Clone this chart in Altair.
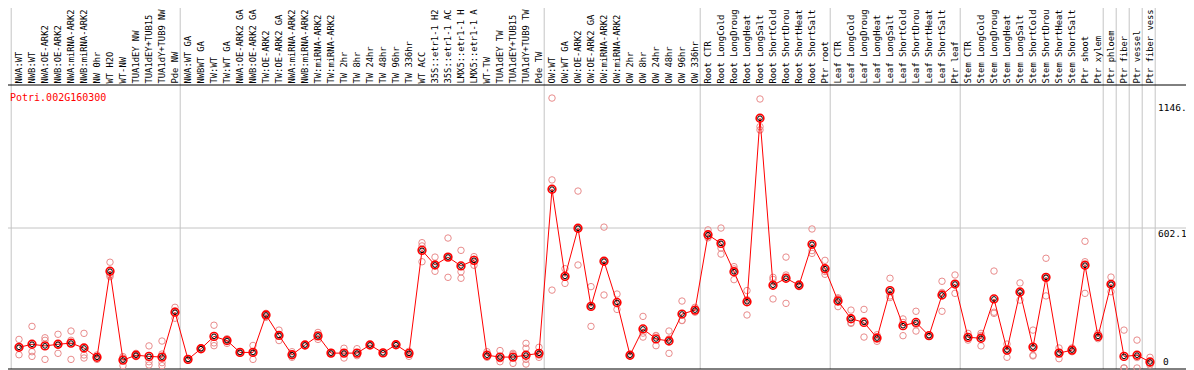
import altair as alt
import pandas as pd

categories = [
    "NWA:WT", "NWB:WT", "NWA:OE-ARK2", "NWB:OE-ARK2", "NWA:miRNA-ARK2", "NWB:miRNA-ARK2",
    "NW 0hr", "WT H2O", "WT-NW", "TUA1dEY NW", "TUA1dEY+TUB15", "TUA1dY+TUB9 NW", "Pde NW",
    "NWA:WT GA", "NWBWT GA", "TW:WT", "TW:WT GA", "NWA:OE-ARK2 GA", "NWB:OE-ARK2 GA",
    "TW:OE-ARK2", "TW:OE-ARK2 GA", "NWA:miRNA-ARK2", "NWB:miRNA-ARK2", "TW:miRNA-ARK2",
    "TW:miRNA-ARK2", "TW 2hr", "TW 8hr", "TW 24hr", "TW 48hr", "TW 96hr", "TW 336hr",
    "WT ACC", "35S::etr1-1 H2", "35S::etr1-1 AC", "LMX5::etr1-1 H", "LMX5::etr1-1 A",
    "WT-TW", "TUA1dEY TW", "TUA1dEY+TUB15", "TUA1dY+TUB9 TW", "Pde TW",
    "OW:WT", "OW:WT GA", "OW:OE-ARK2", "OW:OE-ARK2 GA", "OW:miRNA-ARK2", "OW:miRNA-ARK2",
    "OW 2hr", "OW 8hr", "OW 24hr", "OW 48hr", "OW 96hr", "OW 336hr",
    "Root CTR", "Root LongCold", "Root LongDroug", "Root LongHeat", "Root LongSalt",
    "Root ShortCold", "Root ShortDrou", "Root ShortHeat", "Root ShortSalt", "Ptr root",
    "Leaf CTR", "Leaf LongCold", "Leaf LongDroug", "Leaf LongHeat", "Leaf LongSalt",
    "Leaf ShortCold", "Leaf ShortDrou", "Leaf ShortHeat", "Leaf ShortSalt", "Ptr leaf",
    "Stem CTR", "Stem LongCold", "Stem LongDroug", "Stem LongHeat", "Stem LongSalt",
    "Stem ShortCold", "Stem ShortDrou", "Stem ShortHeat", "Stem ShortSalt", "Ptr shoot",
    "Ptr xylem", "Ptr phloem", "Ptr fiber", "Ptr vessel", "Ptr fiber vess",
]

means = [
    89, 102, 95, 102, 107, 86, 46, 416, 34, 55, 50, 47, 240,
    37, 83, 136, 118, 67, 67, 228, 140, 57, 99, 138, 64, 64, 64, 99, 65, 100, 63,
    506, 443, 477, 439, 463, 55, 47, 47, 55, 63,
    769, 394, 601, 265, 459, 282, 55, 168, 125, 116, 232, 249,
    573, 536, 414, 285, 1074, 356, 386, 356, 532, 427,
    288, 212, 196, 129, 333, 182, 196, 139, 314, 361,
    132, 128, 297, 77, 327, 90, 390, 64, 77, 442,
    136, 360, 50, 55, 26,
]

replicates = [
    [123, 57, 87], [179, 70, 50], [130, 119, 37], [145, 63, 98], [159, 119, 37],
    [149, 56, 43], [56, 37, 45], [455, 393, 400], [49, 10, 43], [63, 49, 55],
    [95, 27, 13], [116, 60, 23, 10], [261, 214, 245],
    [40, 35, 36], [83, 80, 86], [184, 108, 96], [126, 106, 118], [67, 65, 70],
    [97, 37, 67], [235, 218, 228], [163, 118, 140], [70, 46, 57], [99, 97, 101],
    [153, 123, 138], [64, 62, 67], [85, 43, 64], [83, 53, 60], [99, 97, 101],
    [66, 63, 68], [100, 98, 103], [50, 66, 72],
    [539, 525, 457], [477, 416, 443], [559, 390, 477], [506, 414, 386], [479, 442, 468],
    [70, 46, 50], [75, 27, 40], [63, 20, 58], [106, 85, 37, 17], [89, 46, 55],
    [1161, 809, 335], [427, 364, 391], [761, 443, 600], [350, 179, 265], [606, 314, 459],
    [318, 252, 276], [55, 52, 58], [222, 133, 150], [140, 96, 138], [159, 63, 125],
    [288, 204, 205], [261, 240, 246],
    [594, 560, 566], [602, 490, 516], [436, 380, 426], [333, 228, 294], [1157, 1038, 1024],
    [390, 297, 381], [477, 400, 278], [356, 350, 362], [598, 493, 505], [463, 403, 415],
    [302, 264, 298], [249, 192, 195], [252, 133, 204], [115, 129, 143], [386, 310, 303],
    [211, 139, 196], [244, 159, 187], [139, 136, 142], [373, 244, 325], [400, 321, 362],
    [149, 120, 127], [149, 95, 140], [417, 235, 240], [103, 46, 82], [366, 292, 323],
    [163, 55, 52], [472, 310, 388], [86, 40, 67], [86, 70, 75], [545, 457, 321],
    [149, 126, 133], [391, 328, 361], [163, 0, 0], [120, 0, 45], [46, 13, 20],
]

group_starts = [0, 13, 41, 53, 63, 73, 84, 85, 86, 87, 88]
grid_values = [602.1]
ytick_top_values = [1146, 602.1]
ytick_top_labels = ["1146.", "602.1"]
ytick_bottom_values = [0]
ytick_bottom_labels = ["0"]
title_text = "Potri.002G160300"

W, H = 1147, 284
TOTAL_W = 1178
FONT = "DejaVu Sans Mono"
RED = "#ff0000"
PINK = "#e98c8c"
GRAY = "#c4c4c4"

mean_df = pd.DataFrame({"idx": list(range(len(categories))), "cat": categories, "value": means})
rep_df = pd.DataFrame(
    [(i, v) for i, reps in enumerate(replicates) for v in reps], columns=["idx", "value"]
)
sep_df = pd.DataFrame({"pos": [g - 0.6 for g in group_starts]})
grid_df = pd.DataFrame({"value": grid_values})
ytop_df = pd.DataFrame({"value": ytick_top_values, "label": ytick_top_labels})
ybot_df = pd.DataFrame({"value": ytick_bottom_values, "label": ytick_bottom_labels})
title_df = pd.DataFrame({"t": [title_text]})
frame_df = pd.DataFrame({"k": [0]})

x_scale = alt.Scale(domain=[-11 / 13, W / 13 - 11 / 13], nice=False, zero=False)
y_scale = alt.Scale(domain=[-4.3, 1217.2], nice=False, zero=False)

X = alt.X("idx:Q", scale=x_scale, axis=None)
Y = alt.Y("value:Q", scale=y_scale, axis=None)

seps = alt.Chart(sep_df).mark_rule(color=GRAY, strokeWidth=1).encode(
    x=alt.X("pos:Q", scale=x_scale, axis=None),
    y=alt.value(-77),
    y2=alt.value(H),
)

grid = alt.Chart(grid_df).mark_rule(color=GRAY, strokeWidth=1).encode(
    y=Y, x=alt.value(-8), x2=alt.value(TOTAL_W)
)

frame_top = alt.Chart(frame_df).mark_rule(color="black", strokeWidth=1).encode(
    y=alt.value(0), x=alt.value(-8), x2=alt.value(TOTAL_W)
)
frame_bot = alt.Chart(frame_df).mark_rule(color="black", strokeWidth=1).encode(
    y=alt.value(H), x=alt.value(-8), x2=alt.value(TOTAL_W)
)

reps = alt.Chart(rep_df).mark_point(
    shape="circle", filled=False, size=42, color=PINK, strokeWidth=1, opacity=1
).encode(x=X, y=Y)

line = alt.Chart(mean_df).mark_line(color=RED, strokeWidth=1).encode(x=X, y=Y)

mean_outer = alt.Chart(mean_df).mark_point(
    shape="circle", filled=False, size=60, color=RED, strokeWidth=1.6, opacity=1
).encode(x=X, y=Y)
mean_inner = alt.Chart(mean_df).mark_point(
    shape="circle", filled=False, size=22, color="#000000", strokeWidth=1, opacity=1
).encode(x=X, y=Y)

cat_labels = alt.Chart(mean_df).mark_text(
    angle=270, align="left", baseline="middle", font=FONT, fontSize=8.8, color="black"
).encode(x=X, y=alt.value(-1.5), text="cat:N")

ytop = alt.Chart(ytop_df).mark_text(
    align="left", baseline="top", dy=1, font=FONT, fontSize=9.5, color="black"
).encode(y=Y, x=alt.value(1150), text="label:N")
ybot = alt.Chart(ybot_df).mark_text(
    align="left", baseline="bottom", dy=-1, font=FONT, fontSize=9.5, color="black"
).encode(y=Y, x=alt.value(1155), text="label:N")

title = alt.Chart(title_df).mark_text(
    align="left", baseline="alphabetic", font=FONT, fontSize=10, color=RED
).encode(x=alt.value(2), y=alt.value(15.5), text="t:N")

chart = alt.layer(
    seps, grid, frame_top, frame_bot, reps, line, mean_outer, mean_inner,
    cat_labels, ytop, ybot, title,
).properties(
    width=W,
    height=H,
    autosize=alt.AutoSizeParams(type="none"),
    padding={"left": 0, "top": 77, "right": TOTAL_W - W, "bottom": 1},
).configure_view(stroke=None)

chart.save("out.html", embed_options={"renderer": "svg", "actions": False})
